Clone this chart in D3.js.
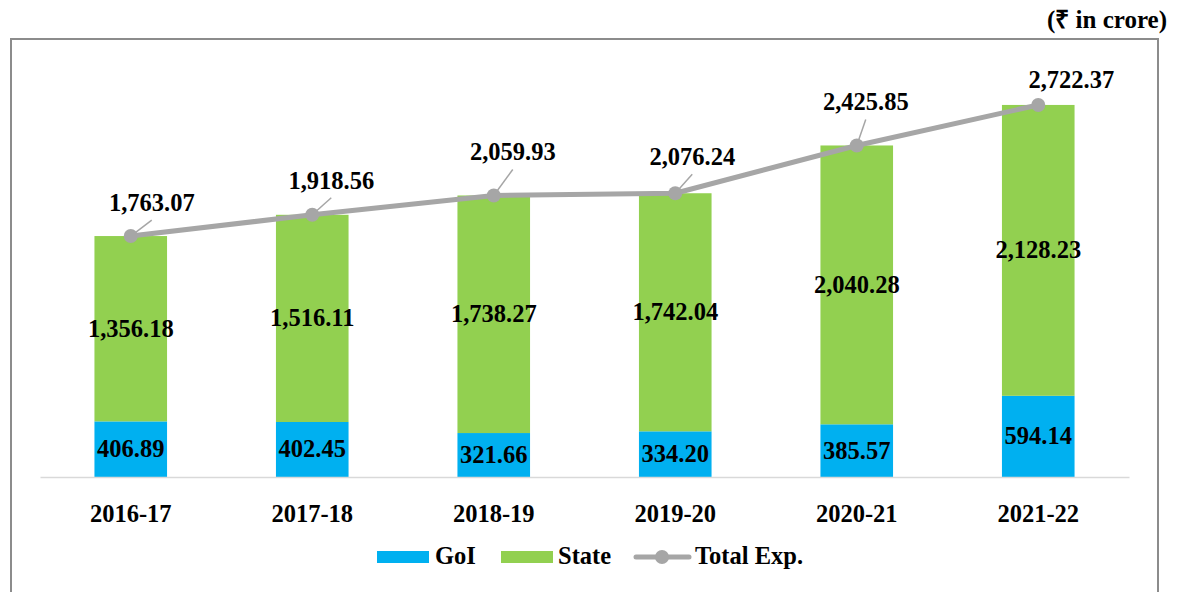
<!DOCTYPE html>
<html>
<head>
<meta charset="utf-8">
<script src="https://cdn.jsdelivr.net/npm/d3@7"></script>
<style>
  body { margin: 0; background: #fff; }
  svg text { font-family: "Liberation Serif", "Times New Roman", serif; font-weight: bold; fill: #000; }
</style>
</head>
<body>
<svg></svg>
<script>
// values in Rs crore
const years = ["2016-17", "2017-18", "2018-19", "2019-20", "2020-21", "2021-22"];
const goi = [406.89, 402.45, 321.66, 334.20, 385.57, 594.14];
const state = [1356.18, 1516.11, 1738.27, 1742.04, 2040.28, 2128.23];
const total = [1763.07, 1918.56, 2059.93, 2076.24, 2425.85, 2722.37];

// where each total label sits relative to its marker (dx, dy of baseline)
const totalLabelOffset = [[21, -25], [19, -26], [19, -35], [17, -28], [9, -35], [33, -17]];

var svgWidth = 1177,
    svgHeight = 592;

var svg = d3.select("svg")
    .attr("width", svgWidth)
    .attr("height", svgHeight);

var fmt = d3.format(",.2f");
var blue = "#00B0F0", green = "#92D050", grey = "#A6A6A6";
var fs = "24.5px";

// outer frame
svg.append("rect")
    .attr("x", 11).attr("y", 39)
    .attr("width", 1147).attr("height", 600)
    .attr("fill", "none")
    .attr("stroke", "#8c8c8c")
    .attr("stroke-width", 2);

svg.append("text")
    .attr("x", 1167).attr("y", 28)
    .attr("text-anchor", "end")
    .style("font-size", "25px")
    .text("(₹ in crore)");

var x = d3.scaleBand()
    .domain(years)
    .range([40, 1129])
    .paddingInner(0.6)
    .paddingOuter(0.3);

var y = d3.scaleLinear()
    .domain([0, 3000])
    .range([477, 67]);

var rows = years.map(function(yr, i) {
    return { year: yr, goi: goi[i], state: state[i], total: total[i], off: totalLabelOffset[i] };
});

// bars
var g = svg.append("g");
g.selectAll(".goi").data(rows).enter().append("rect")
    .attr("x", d => x(d.year))
    .attr("width", x.bandwidth())
    .attr("y", d => y(d.goi))
    .attr("height", d => y(0) - y(d.goi))
    .attr("fill", blue);

g.selectAll(".state").data(rows).enter().append("rect")
    .attr("x", d => x(d.year))
    .attr("width", x.bandwidth())
    .attr("y", d => y(d.goi + d.state))
    .attr("height", d => y(d.goi) - y(d.goi + d.state))
    .attr("fill", green);

// x axis
var xAxis = svg.append("g")
    .attr("transform", "translate(0,477)")
    .call(d3.axisBottom(x).tickSize(0).tickPadding(28));
xAxis.select(".domain").attr("stroke", "#d9d9d9").attr("stroke-width", 1.5);
xAxis.selectAll("text")
    .style("font-size", fs)
    .style("font-family", "'Liberation Serif', 'Times New Roman', serif")
    .style("font-weight", "bold")
    .attr("fill", "#000");

// segment labels
g.selectAll(".goiLab").data(rows).enter().append("text")
    .attr("x", d => x(d.year) + x.bandwidth() / 2)
    .attr("y", d => (y(0) + y(d.goi)) / 2 + 8)
    .attr("text-anchor", "middle")
    .style("font-size", fs)
    .text(d => fmt(d.goi));

g.selectAll(".stateLab").data(rows).enter().append("text")
    .attr("x", d => x(d.year) + x.bandwidth() / 2)
    .attr("y", d => (y(d.goi) + y(d.goi + d.state)) / 2 + 8)
    .attr("text-anchor", "middle")
    .style("font-size", fs)
    .text(d => fmt(d.state));

// total line
var cx = d => x(d.year) + x.bandwidth() / 2;
var line = d3.line()
    .x(cx)
    .y(d => y(d.total));

// leader lines
g.selectAll(".leader").data(rows.filter(d => d.off[1] < -20)).enter().append("line")
    .attr("x1", cx)
    .attr("y1", d => y(d.total))
    .attr("x2", d => cx(d) + d.off[0])
    .attr("y2", d => y(d.total) + d.off[1] + 9)
    .attr("stroke", grey)
    .attr("stroke-width", 1.5);

g.append("path")
    .datum(rows)
    .attr("fill", "none")
    .attr("stroke", grey)
    .attr("stroke-width", 5)
    .attr("stroke-linejoin", "round")
    .attr("d", line);

g.selectAll(".dot").data(rows).enter().append("circle")
    .attr("cx", cx)
    .attr("cy", d => y(d.total))
    .attr("r", 7)
    .attr("fill", grey);

g.selectAll(".totLab").data(rows).enter().append("text")
    .attr("x", d => cx(d) + d.off[0])
    .attr("y", d => y(d.total) + d.off[1])
    .attr("text-anchor", "middle")
    .style("font-size", fs)
    .text(d => fmt(d.total));

// legend
var leg = svg.append("g");
leg.append("rect").attr("x", 377).attr("y", 551).attr("width", 52).attr("height", 12).attr("fill", blue);
leg.append("text").attr("x", 435).attr("y", 564).style("font-size", fs).text("GoI");
leg.append("rect").attr("x", 501).attr("y", 551).attr("width", 52).attr("height", 12).attr("fill", green);
leg.append("text").attr("x", 558).attr("y", 564).style("font-size", fs).text("State");
leg.append("line").attr("x1", 636).attr("x2", 689).attr("y1", 557).attr("y2", 557)
    .attr("stroke", grey).attr("stroke-width", 5).attr("stroke-linecap", "round");
leg.append("circle").attr("cx", 662).attr("cy", 557).attr("r", 7).attr("fill", grey);
leg.append("text").attr("x", 695).attr("y", 564).style("font-size", fs).text("Total Exp.");
</script>
</body>
</html>
